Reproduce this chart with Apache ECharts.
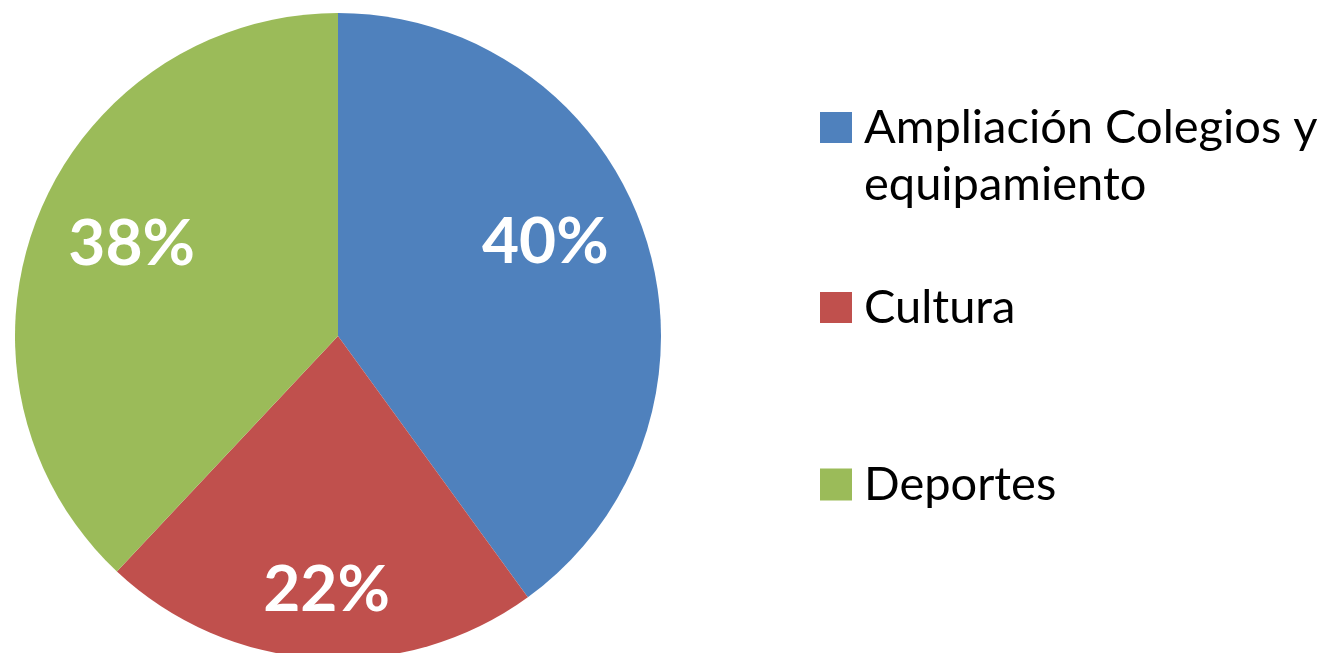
<!DOCTYPE html>
<html><head><meta charset="utf-8">
<script src="https://cdn.jsdelivr.net/npm/echarts@6/dist/echarts.min.js"></script>
<style>html,body{margin:0;padding:0;background:#fff}#c{width:1336px;height:653px}</style>
</head><body><div id="c"></div>
<script>
const categories = ['Ampliación Colegios y equipamiento', 'Cultura', 'Deportes'];
const values = [40, 22, 38];
const colors = ['#4F81BD', '#C0504D', '#9BBB59'];
const labelOffsets = [[-11, -23], [3, 25], [7, -7]];

const data = categories.map((n, i) => ({ name: n, value: values[i], itemStyle: { color: colors[i] } }));
const chart = echarts.init(document.getElementById('c'));
const legendText = { fontFamily: 'Lato', fontSize: 47, color: '#000', lineHeight: 57, padding: [0, 0, 0, 7] };
chart.setOption({
  animation: false,
  legend: [
    { orient: 'vertical', left: 815, top: 94, data: [categories[0]], itemWidth: 32, itemHeight: 114,
      icon: 'path://M0,13L32,13L32,44L0,44Z M0,0L0,0.01 M0,114L0,114.01',
      formatter: n => n.replace(' y ', ' y\n'), textStyle: legendText, selectedMode: false },
    { orient: 'vertical', left: 815, top: 274, data: [categories[1]], itemWidth: 32, itemHeight: 31,
      icon: 'rect', textStyle: legendText, selectedMode: false },
    { orient: 'vertical', left: 815, top: 451, data: [categories[2]], itemWidth: 32, itemHeight: 32,
      icon: 'rect', textStyle: legendText, selectedMode: false }
  ],
  series: [
    { type: 'pie', center: [338, 336], radius: [0, 323], startAngle: 90, clockwise: true,
      data: data, label: { show: false }, labelLine: { show: false }, silent: true },
    { type: 'pie', center: [338, 336], radius: [130, 323], startAngle: 90, clockwise: true,
      data: data.map((d, i) => ({ name: d.name, value: d.value, itemStyle: { color: 'rgba(0,0,0,0)' },
        label: { offset: labelOffsets[i] } })),
      silent: true, labelLine: { show: false },
      label: { show: true, position: 'inside', formatter: '{c}%', color: '#fff', fontFamily: 'Lato',
        fontWeight: 'bold', fontSize: 64 } }
  ]
});
</script></body></html>
